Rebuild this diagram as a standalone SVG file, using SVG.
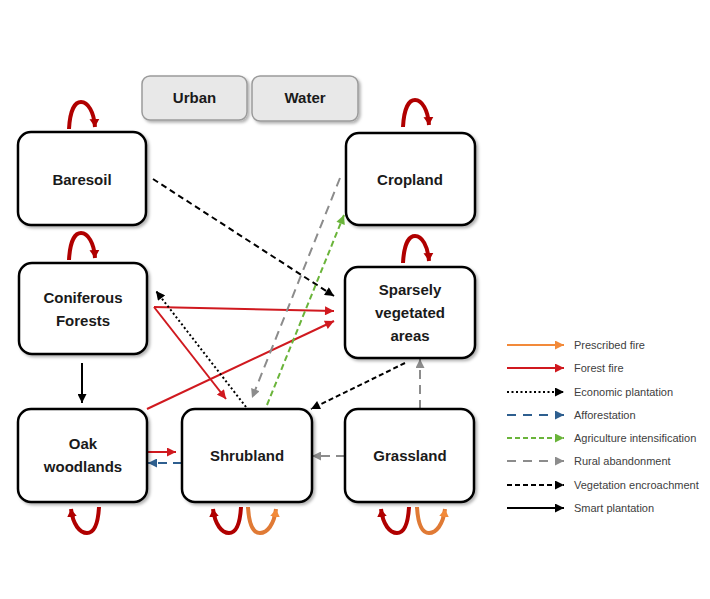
<svg xmlns="http://www.w3.org/2000/svg" width="710" height="599" viewBox="0 0 710 599">
<style>
.box{fill:#fff;stroke:#000;stroke-width:2.5}
.gbox{fill:#e8e8e8;stroke:#9a9a9a;stroke-width:1.5}
.lbl{font-family:"Liberation Sans",Arial,sans-serif;font-weight:bold;font-size:15px;fill:#1a1a1a;text-anchor:middle}
.leg{font-family:"Liberation Sans",Arial,sans-serif;font-size:11px;fill:#404040}
.c{fill:none;stroke-width:2}
.red{stroke:#d0191f}
.blk{stroke:#000}
.gry{stroke:#8c8c8c}
.grn{stroke:#6ab43a}
.blu{stroke:#2e5f8f}
.org{stroke:#f28a3a}
.loopr{fill:none;stroke:#b00000;stroke-width:4}
.loopo{fill:none;stroke:#e07a35;stroke-width:4}
</style>
<defs>
<filter id="sh" x="-10%" y="-10%" width="130%" height="130%"><feDropShadow dx="2" dy="2" stdDeviation="1.5" flood-color="#000" flood-opacity="0.3"/></filter>
<marker id="mR" viewBox="0 0 10 10" refX="10" refY="5" markerWidth="10" markerHeight="9" markerUnits="userSpaceOnUse" orient="auto"><path d="M0,0 L10,5 L0,10z" fill="#d0191f"/></marker>
<marker id="mK" viewBox="0 0 10 10" refX="10" refY="5" markerWidth="10" markerHeight="9" markerUnits="userSpaceOnUse" orient="auto"><path d="M0,0 L10,5 L0,10z" fill="#000"/></marker>
<marker id="mG" viewBox="0 0 10 10" refX="10" refY="5" markerWidth="10" markerHeight="9" markerUnits="userSpaceOnUse" orient="auto"><path d="M0,0 L10,5 L0,10z" fill="#8c8c8c"/></marker>
<marker id="mN" viewBox="0 0 10 10" refX="10" refY="5" markerWidth="10" markerHeight="9" markerUnits="userSpaceOnUse" orient="auto"><path d="M0,0 L10,5 L0,10z" fill="#6ab43a"/></marker>
<marker id="mB" viewBox="0 0 10 10" refX="10" refY="5" markerWidth="10" markerHeight="9" markerUnits="userSpaceOnUse" orient="auto"><path d="M0,0 L10,5 L0,10z" fill="#2e5f8f"/></marker>
<marker id="mO" viewBox="0 0 10 10" refX="10" refY="5" markerWidth="10" markerHeight="9" markerUnits="userSpaceOnUse" orient="auto"><path d="M0,0 L10,5 L0,10z" fill="#f28a3a"/></marker>
<marker id="lR" viewBox="0 0 8 10" refX="8" refY="5" markerWidth="8" markerHeight="10" markerUnits="userSpaceOnUse" orient="auto"><path d="M0,0 L8,5 L0,10z" fill="#b00000"/></marker>
<marker id="lO" viewBox="0 0 8 10" refX="8" refY="5" markerWidth="8" markerHeight="10" markerUnits="userSpaceOnUse" orient="auto"><path d="M0,0 L8,5 L0,10z" fill="#f28a3a"/></marker>
</defs>

<g id="connectors">
<line class="c blk" x1="153" y1="179" x2="334" y2="296" stroke-dasharray="6,4" marker-end="url(#mK)"/>
<line class="c red" x1="154" y1="307" x2="334" y2="311" marker-end="url(#mR)"/>
<line class="c red" x1="154" y1="307" x2="226" y2="399" marker-end="url(#mR)"/>
<line class="c red" x1="147" y1="409" x2="334" y2="321" marker-end="url(#mR)"/>
<line class="c blk" x1="246" y1="407" x2="156" y2="291" stroke-dasharray="2,2.5" marker-end="url(#mK)"/>
<line class="c gry" x1="340" y1="178" x2="252" y2="398" stroke-dasharray="9,6" marker-end="url(#mG)"/>
<line class="c grn" x1="267" y1="405" x2="344" y2="215" stroke-dasharray="6,3.5" marker-end="url(#mN)"/>
<line class="c blk" x1="405" y1="363" x2="311" y2="409" stroke-dasharray="5,3" marker-end="url(#mK)"/>
<line class="c gry" x1="420" y1="409" x2="420" y2="359" stroke-dasharray="9,6" marker-end="url(#mG)"/>
<line class="c blk" x1="82" y1="363" x2="82" y2="403" marker-end="url(#mK)"/>
<line class="c red" x1="148" y1="452" x2="176" y2="452" marker-end="url(#mR)"/>
<line class="c blu" x1="182" y1="463" x2="148" y2="463" stroke-dasharray="9,6" marker-end="url(#mB)"/>
<line class="c gry" x1="345" y1="456" x2="312" y2="456" stroke-dasharray="9,6" marker-end="url(#mG)"/>
</g>

<g id="selfloops">
<path class="loopr" d="M69,129 C70,110 75,102 81,102 C88,102 94,112 95,127" marker-end="url(#lR)"/>
<path class="loopr" d="M69,260 C70,241 75,233 81,233 C88,233 94,243 95,258" marker-end="url(#lR)"/>
<path class="loopr" d="M403,127 C404,108 409,100 415,100 C422,100 428,110 429,125" marker-end="url(#lR)"/>
<path class="loopr" d="M403,263 C404,244 409,236 415,236 C422,236 428,246 429,261" marker-end="url(#lR)"/>
<path class="loopr" d="M99,507 C98,525 94,533 87,533 C80,533 73,525 71,509" marker-end="url(#lR)"/>
<path class="loopr" d="M241,507 C240,525 236,533 229,533 C222,533 215,525 213,509" marker-end="url(#lR)"/>
<path class="loopo" d="M248,507 C249,525 253,533 260,533 C267,533 274,525 276,509" marker-end="url(#lO)"/>
<path class="loopr" d="M409,507 C408,525 404,533 397,533 C390,533 383,525 381,509" marker-end="url(#lR)"/>
<path class="loopo" d="M417,507 C418,525 422,533 429,533 C436,533 443,525 445,509" marker-end="url(#lO)"/>
</g>

<g id="urban"><rect class="gbox" x="142" y="76" width="105" height="44" rx="8" filter="url(#sh)"/><text class="lbl" x="194.5" y="103">Urban</text></g>
<g id="water"><rect class="gbox" x="252" y="76" width="106" height="45" rx="8" filter="url(#sh)"/><text class="lbl" x="305" y="103">Water</text></g>

<g id="baresoil"><rect class="box" x="18" y="132" width="128" height="93" rx="13" filter="url(#sh)"/><text class="lbl" x="82" y="185">Baresoil</text></g>
<g id="cropland"><rect class="box" x="346" y="133" width="129" height="92" rx="13" filter="url(#sh)"/><text class="lbl" x="410" y="185">Cropland</text></g>
<g id="coniferous"><rect class="box" x="19" y="263" width="128" height="91" rx="13" filter="url(#sh)"/><text class="lbl" x="83" y="303">Coniferous</text><text class="lbl" x="83" y="326">Forests</text></g>
<g id="sparsely"><rect class="box" x="345" y="267" width="130" height="91" rx="13" filter="url(#sh)"/><text class="lbl" x="410" y="295">Sparsely</text><text class="lbl" x="410" y="318">vegetated</text><text class="lbl" x="410" y="341">areas</text></g>
<g id="oak"><rect class="box" x="18" y="409" width="129" height="93" rx="13" filter="url(#sh)"/><text class="lbl" x="83" y="449">Oak</text><text class="lbl" x="83" y="472">woodlands</text></g>
<g id="shrubland"><rect class="box" x="182" y="409" width="130" height="93" rx="13" filter="url(#sh)"/><text class="lbl" x="247" y="461">Shrubland</text></g>
<g id="grassland"><rect class="box" x="345" y="409" width="129" height="93" rx="13" filter="url(#sh)"/><text class="lbl" x="410" y="461">Grassland</text></g>

<g id="legend">
<line class="c org" x1="507" y1="345" x2="564" y2="345" marker-end="url(#mO)"/>
<text class="leg" x="574" y="349">Prescribed fire</text>
<line class="c red" x1="507" y1="368" x2="564" y2="368" marker-end="url(#mR)"/>
<text class="leg" x="574" y="372">Forest fire</text>
<line class="c blk" x1="507" y1="392" x2="564" y2="392" stroke-dasharray="2,2.5" marker-end="url(#mK)"/>
<text class="leg" x="574" y="396">Economic plantation</text>
<line class="c blu" x1="507" y1="415" x2="564" y2="415" stroke-dasharray="9,7" marker-end="url(#mB)"/>
<text class="leg" x="574" y="419">Afforestation</text>
<line class="c grn" x1="507" y1="438" x2="564" y2="438" stroke-dasharray="5,3" marker-end="url(#mN)"/>
<text class="leg" x="574" y="442">Agriculture intensification</text>
<line class="c gry" x1="507" y1="461" x2="564" y2="461" stroke-dasharray="9,7" marker-end="url(#mG)"/>
<text class="leg" x="574" y="465">Rural abandonment</text>
<line class="c blk" x1="507" y1="485" x2="564" y2="485" stroke-dasharray="5,3" marker-end="url(#mK)"/>
<text class="leg" x="574" y="489">Vegetation encroachment</text>
<line class="c blk" x1="507" y1="508" x2="564" y2="508" marker-end="url(#mK)"/>
<text class="leg" x="574" y="512">Smart plantation</text>
</g>
</svg>
